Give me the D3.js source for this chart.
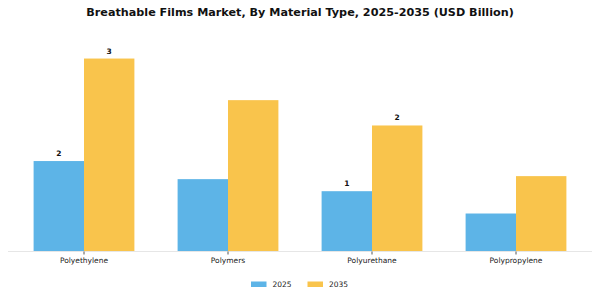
<!DOCTYPE html>
<html>
<head>
<meta charset="utf-8">
<script src="https://cdn.jsdelivr.net/npm/d3@7"></script>
<style>
  body { margin: 0; background: #fff; }
  text { font-family: "DejaVu Sans", sans-serif; }
</style>
</head>
<body>
<svg id="chart" width="600" height="300"></svg>
<script>
var categories = ["Polyethylene", "Polymers", "Polyurethane", "Polypropylene"];
var seriesNames = ["2025", "2035"];
var values2025 = [1.5, 1.2, 1.0, 0.63];
var values2035 = [3.2, 2.51, 2.09, 1.25];
var labels2025 = ["2", null, "1", null];
var labels2035 = ["3", null, "2", null];
var colors = ["#5DB4E7", "#F9C44C"];

var svg = d3.select("#chart");
var base = 251.5;

var x = d3.scaleBand()
  .domain(categories)
  .range([12, 588])
  .paddingInner(0)
  .paddingOuter(0);

var inner = d3.scaleBand()
  .domain(seriesNames)
  .range([x.bandwidth() * 0.15, x.bandwidth() * 0.85]);

var y = d3.scaleLinear()
  .domain([0, 4])
  .range([base, base - 4 * 60.3]);

// title
svg.append("text")
  .attr("x", 300).attr("y", 15.5)
  .attr("text-anchor", "middle")
  .attr("font-size", 11.2).attr("font-weight", "bold")
  .attr("fill", "#111")
  .text("Breathable Films Market, By Material Type, 2025-2035 (USD Billion)");

var allSeries = [
  { name: "2025", vals: values2025, labels: labels2025, color: colors[0] },
  { name: "2035", vals: values2035, labels: labels2035, color: colors[1] }
];

allSeries.forEach(function(s) {
  svg.append("g").selectAll("rect")
    .data(categories)
    .enter()
    .append("rect")
    .attr("x", function(c) { return x(c) + inner(s.name); })
    .attr("width", inner.bandwidth())
    .attr("y", function(c, i) { return y(s.vals[i]); })
    .attr("height", function(c, i) { return base - y(s.vals[i]); })
    .attr("fill", s.color);

  svg.append("g").selectAll("text")
    .data(categories.filter(function(c, i) { return s.labels[i] != null; }))
    .enter()
    .append("text")
    .attr("x", function(c) { return x(c) + inner(s.name) + inner.bandwidth() / 2; })
    .attr("y", function(c) { return y(s.vals[categories.indexOf(c)]) - 5; })
    .attr("text-anchor", "middle")
    .attr("font-size", 7.5).attr("font-weight", "bold")
    .attr("fill", "#111")
    .text(function(c) { return s.labels[categories.indexOf(c)]; });
});

// x axis
var axis = svg.append("g")
  .attr("transform", "translate(0," + base + ")")
  .call(d3.axisBottom(x).tickSize(3).tickPadding(3));
axis.select(".domain").remove();
axis.insert("line", ":first-child")
  .attr("x1", 8).attr("x2", 592)
  .attr("stroke", "#e6e6e6").attr("stroke-width", 1);
axis.selectAll(".tick line").attr("stroke", "#555");
axis.selectAll(".tick text")
  .attr("font-family", "DejaVu Sans, sans-serif")
  .attr("font-size", 7.5).attr("fill", "#222");

// legend
var legend = svg.append("g");
var legendX = [251, 307.5];
allSeries.forEach(function(s, i) {
  legend.append("rect")
    .attr("x", legendX[i]).attr("y", 281.5)
    .attr("width", 15.5).attr("height", 5.5)
    .attr("fill", s.color);
  legend.append("text")
    .attr("x", legendX[i] + 21.5).attr("y", 287)
    .attr("font-size", 7.5).attr("fill", "#222")
    .text(s.name);
});
</script>
</body>
</html>
